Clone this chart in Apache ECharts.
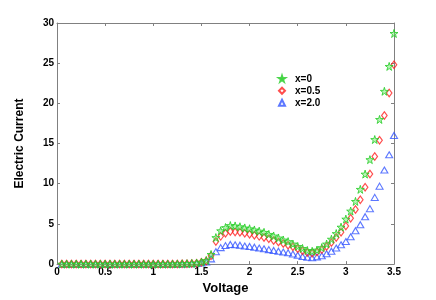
<!DOCTYPE html>
<html><head><meta charset="utf-8">
<script src="https://cdn.jsdelivr.net/npm/echarts@6/dist/echarts.min.js"></script>
<style>html,body{margin:0;padding:0;background:#fff}#c{width:436px;height:300px}</style>
</head><body><div id="c"></div>
<script>
var voltage = [0.05,0.1,0.15,0.2,0.25,0.3,0.35,0.4,0.45,0.5,0.55,0.6,0.65,0.7,0.75,0.8,0.85,0.9,0.95,1.0,
1.05,1.1,1.15,1.2,1.25,1.3,1.35,1.4,1.45,1.5,1.55,1.6,1.65,1.7,1.75,1.8,1.85,1.9,1.95,2.0,
2.05,2.1,2.15,2.2,2.25,2.3,2.35,2.4,2.45,2.5,2.55,2.6,2.65,2.7,2.75,2.8,2.85,2.9,2.95,3.0,
3.05,3.1,3.15,3.2,3.25,3.3,3.35,3.4,3.45,3.5];
var current_x0 = [0,0,0,0,0,0,0,0,0,0,0,0,0,0,0,0,0,0,0,0,
0,0,0,0.01,0.02,0.03,0.05,0.08,0.13,0.25,0.45,1.2,3.3,4.15,4.55,4.8,4.75,4.65,4.5,4.4,
4.25,4.1,3.95,3.7,3.5,3.25,3.0,2.8,2.5,2.2,1.95,1.7,1.6,1.75,2.05,2.5,3.1,3.8,4.6,5.6,
6.6,7.8,9.3,11.2,13.0,15.5,18.0,21.5,24.6,28.7];
var current_x05 = [0,0,0,0,0,0,0,0,0,0,0,0,0,0,0,0,0,0,0,0,
0,0,0,0.01,0.02,0.03,0.05,0.07,0.12,0.22,0.4,1.05,2.8,3.45,3.85,4.05,4.0,3.95,3.85,3.7,
3.6,3.45,3.3,3.15,2.95,2.75,2.55,2.35,2.15,1.9,1.65,1.45,1.35,1.5,1.8,2.2,2.7,3.3,3.95,4.75,
5.7,6.8,8.0,9.55,11.2,13.4,15.4,18.5,21.3,24.8];
var current_x20 = [0,0,0,0,0,0,0,0,0,0,0,0,0,0,0,0,0,0,0,0,
0,0,0,0.01,0.01,0.02,0.03,0.05,0.08,0.14,0.25,0.65,1.55,2.05,2.3,2.45,2.4,2.35,2.25,2.2,
2.1,2.0,1.9,1.8,1.7,1.6,1.5,1.4,1.25,1.1,0.95,0.85,0.8,0.9,1.05,1.3,1.6,2.0,2.4,2.8,
3.4,4.15,4.9,5.9,6.9,8.3,9.7,11.7,13.6,16.0];
var seriesNames = ['x=0','x=0.5','x=2.0'];

function pairs(ys){ return voltage.map(function(v,i){ return [v, ys[i]]; }); }
var starPath = 'path://M50,0 L61,35 L98,35 L68,57 L79,91 L50,70 L21,91 L32,57 L2,35 L39,35 Z';
var FONT = '"Liberation Sans", Arial, Helvetica, sans-serif';
var axisCol = '#808080';

var chart = echarts.init(document.getElementById('c'), null, {renderer:'canvas'});
chart.setOption({
  animation: false,
  backgroundColor: '#fff',
  textStyle: {fontFamily: FONT},
  grid: {left: 57, right: 42, top: 23, bottom: 33, show: false},
  legend: {
    orient: 'vertical', left: 273, top: 68, padding: 5, itemGap: 0.5, itemWidth: 6, itemHeight: 6,
    textStyle: {fontFamily: FONT, fontWeight: 'bold', fontSize: 10, lineHeight: 11.5, color: '#000', padding: [0,0,0,5]},
    data: seriesNames
  },
  xAxis: [{
    type: 'value', min: 0, max: 3.5, interval: 0.5, position: 'bottom',
    name: 'Voltage', nameLocation: 'middle', nameGap: 12,
    nameTextStyle: {fontFamily: FONT, fontWeight: 'bold', fontSize: 13, color: '#000'},
    axisLine: {show: true, onZero: false, lineStyle: {color: axisCol, width: 1}},
    axisTick: {show: true, inside: true, length: 3, lineStyle: {color: axisCol}},
    axisLabel: {fontFamily: FONT, fontWeight: 'bold', fontSize: 10, color: '#000', margin: 3},
    splitLine: {show: false}
  },{
    type: 'value', min: 0, max: 3.5, interval: 0.5, position: 'top',
    axisLine: {show: true, onZero: false, lineStyle: {color: axisCol, width: 1}},
    axisTick: {show: true, inside: true, length: 3, lineStyle: {color: axisCol}},
    axisLabel: {show: false}, splitLine: {show: false}
  }],
  yAxis: [{
    type: 'value', min: 0, max: 30, interval: 5, position: 'left',
    name: 'Electric Current', nameLocation: 'middle', nameGap: 31,
    nameTextStyle: {fontFamily: FONT, fontWeight: 'bold', fontSize: 12, color: '#000'},
    axisLine: {show: true, onZero: false, lineStyle: {color: axisCol, width: 1}},
    axisTick: {show: true, inside: true, length: 3, lineStyle: {color: axisCol}},
    axisLabel: {fontFamily: FONT, fontWeight: 'bold', fontSize: 10, color: '#000', margin: 3},
    splitLine: {show: false}
  },{
    type: 'value', min: 0, max: 30, interval: 5, position: 'right',
    axisLine: {show: true, onZero: false, lineStyle: {color: axisCol, width: 1}},
    axisTick: {show: true, inside: true, length: 3, lineStyle: {color: axisCol}},
    axisLabel: {show: false}, splitLine: {show: false}
  }],
  series: [{
    name: seriesNames[0], type: 'scatter', xAxisIndex: 0, yAxisIndex: 0,
    symbol: starPath, symbolSize: 8, z: 3,
    itemStyle: {color: 'rgba(90,230,90,0.55)', borderColor: '#22cc22', borderWidth: 1},
    data: pairs(current_x0)
  },{
    name: seriesNames[1], type: 'scatter', xAxisIndex: 0, yAxisIndex: 0,
    symbol: 'diamond', symbolSize: [5.5, 7.5], z: 2,
    itemStyle: {color: 'rgba(255,255,255,0)', borderColor: '#ff2020', borderWidth: 1.2},
    data: pairs(current_x05)
  },{
    name: seriesNames[2], type: 'scatter', xAxisIndex: 0, yAxisIndex: 0,
    symbol: 'triangle', symbolSize: [7, 6], z: 1,
    itemStyle: {color: 'rgba(255,255,255,0)', borderColor: '#3355ff', borderWidth: 1.1},
    data: pairs(current_x20)
  }]
});
</script></body></html>
